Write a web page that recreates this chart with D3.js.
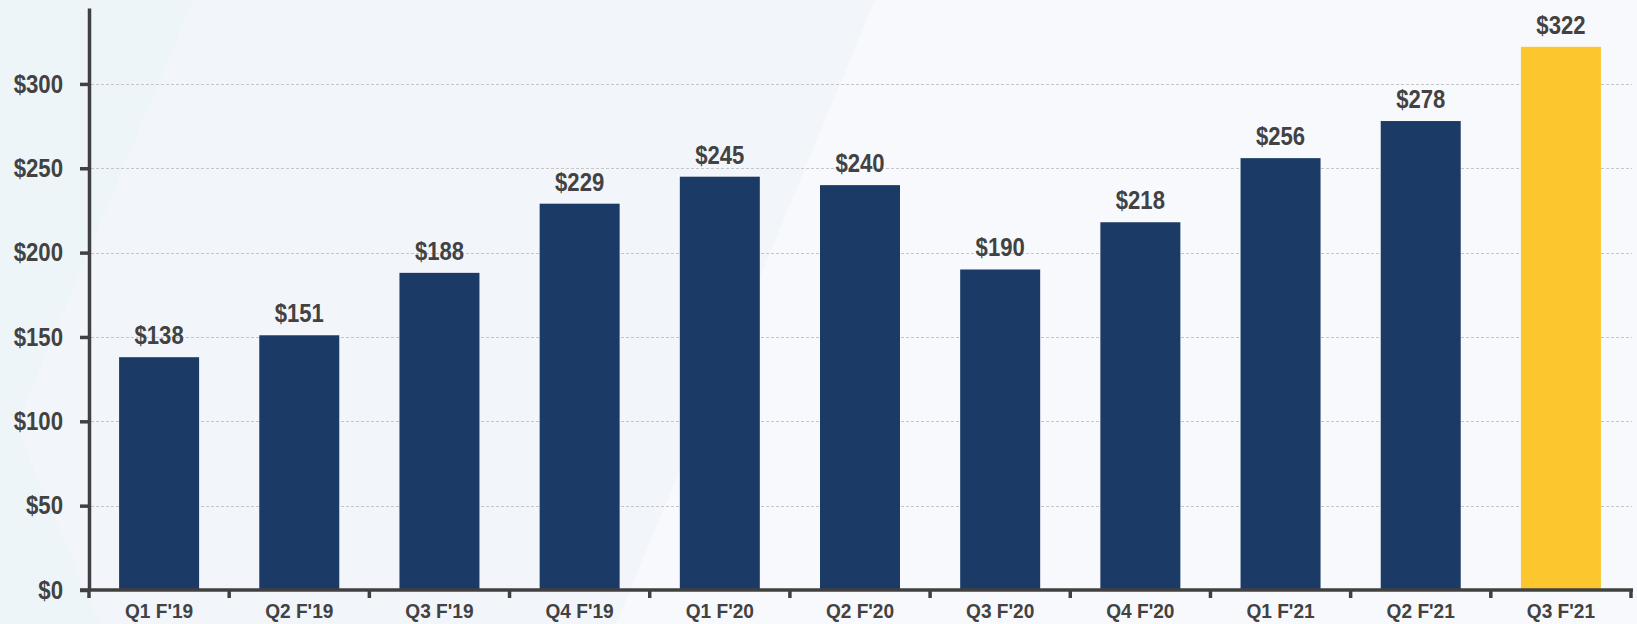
<!DOCTYPE html>
<html><head><meta charset="utf-8">
<script src="https://cdn.jsdelivr.net/npm/d3@7"></script>
<style>
html,body{margin:0;padding:0;background:#F3F6FB;}
svg{display:block;}
text{font-family:"Liberation Sans",Arial,sans-serif;font-weight:bold;fill:#424242;}
</style></head>
<body>
<svg id="chart" width="1637" height="624"></svg>
<script>
const categories = ["Q1 F'19","Q2 F'19","Q3 F'19","Q4 F'19","Q1 F'20","Q2 F'20","Q3 F'20","Q4 F'20","Q1 F'21","Q2 F'21","Q3 F'21"];
const values = [138,151,188,229,245,240,190,218,256,278,322];
const highlight = [false,false,false,false,false,false,false,false,false,false,true];
const yTicks = [0,50,100,150,200,250,300];

const W = 1637, H = 624;
const SV = 0.85, SY = 0.87, SXL = 0.91;
const svg = d3.select("#chart");

// background shapes
const bg = svg.append("g");
bg.append("rect").attr("width",W).attr("height",H).attr("fill","#F2F6FB");
bg.append("polygon").attr("points","875,0 1637,0 1637,624 616,624").attr("fill","#F8F9FC");
bg.append("polygon").attr("points","0,0 193,0 0,465").attr("fill","#EDF5F8");
bg.append("polygon").attr("points","0,390 100,624 0,624").attr("fill","#EDF5F8");

const x = d3.scaleBand().domain(categories).range([89,1631]).paddingInner(0.4293).paddingOuter(0.4293/2);
const y = d3.scaleLinear().domain([0,345]).range([590,8]);
const step = x.step();

// gridlines
svg.append("g").selectAll("line").data(yTicks.filter(d=>d>0)).join("line")
  .attr("x1",91).attr("x2",1632)
  .attr("y1",d=>Math.round(y(d))+0.5).attr("y2",d=>Math.round(y(d))+0.5)
  .attr("stroke","#C4C6C9").attr("stroke-width",1).attr("stroke-dasharray","3,2");

// bars
svg.append("g").selectAll("rect").data(values).join("rect")
  .attr("x",(d,i)=>x(categories[i]))
  .attr("width",x.bandwidth())
  .attr("y",d=>y(d))
  .attr("height",d=>y(0)-y(d))
  .attr("fill",(d,i)=>highlight[i]?"#FCC62F":"#1B3B66");

// value labels
svg.append("g").selectAll("text").data(values).join("text")
  .attr("transform",(d,i)=>`translate(${x(categories[i])+x.bandwidth()/2},${y(d)-13}) scale(${SV},1)`)
  .attr("text-anchor","middle")
  .attr("font-size",26)
  .text(d=>"$"+d);

// y axis
const yAxis = svg.append("g").attr("transform","translate(89,0)")
  .call(d3.axisLeft(y).tickValues(yTicks).tickFormat(d=>"$"+d).tickSize(9).tickSizeOuter(0).tickPadding(17));
yAxis.attr("font-family",null).attr("font-size",null);
yAxis.select(".domain").attr("stroke","#404040").attr("stroke-width",3.5);
yAxis.selectAll(".tick line").attr("stroke","#404040").attr("stroke-width",3.5);
yAxis.selectAll(".tick text").attr("font-size",25.5).attr("fill","#424242")
  .attr("x",-26/SY).attr("transform",`scale(${SY},1)`);

// x axis
const xAxis = svg.append("g").attr("transform","translate(0,590)")
  .call(d3.axisBottom(x).tickSize(0).tickSizeOuter(0).tickPadding(13));
xAxis.attr("font-family",null).attr("font-size",null);
xAxis.select(".domain").attr("stroke","#404040").attr("stroke-width",3.5).attr("d","M80,0H1633");
xAxis.selectAll(".tick").each(function(){
  const t = d3.select(this);
  const tx = +t.attr("transform").match(/translate\(([^,]+),/)[1];
  t.select("text").attr("font-size",21).attr("fill","#424242")
    .attr("x",0).attr("transform",`scale(${SXL},1)`);
});
// boundary ticks
const bounds = d3.range(categories.length+1).map(i=>89+i*step);
xAxis.append("g").selectAll("line").data(bounds).join("line")
  .attr("x1",d=>d).attr("x2",d=>d).attr("y1",0).attr("y2",8)
  .attr("stroke","#404040").attr("stroke-width",3.5);
</script>
</body></html>
